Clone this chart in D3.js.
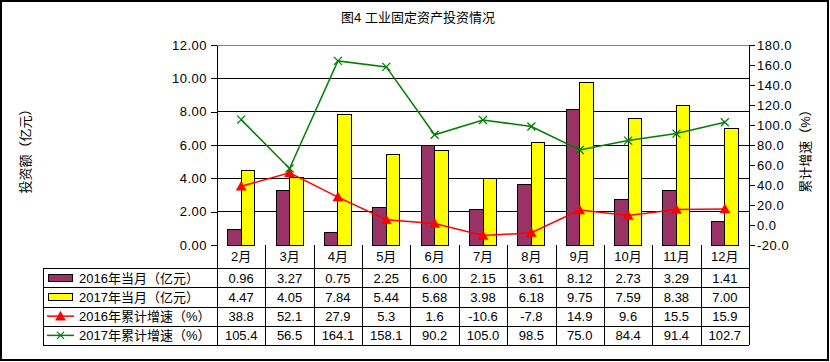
<!DOCTYPE html>
<html>
<head>
<meta charset="utf-8">
<script src="https://cdn.jsdelivr.net/npm/d3@7"></script>
<style>
  body { margin: 0; background: #fff; }
  svg text { font-family: "Liberation Sans", Arial, "Noto Sans CJK SC", sans-serif; fill: #000; }
</style>
</head>
<body>
<svg id="chart" width="830" height="362"></svg>
<script>
// data
const months = ['2月', '3月', '4月', '5月', '6月', '7月', '8月', '9月', '10月', '11月', '12月'];
const cur2016 = [0.96, 3.27, 0.75, 2.25, 6.00, 2.15, 3.61, 8.12, 2.73, 3.29, 1.41];
const cur2017 = [4.47, 4.05, 7.84, 5.44, 5.68, 3.98, 6.18, 9.75, 7.59, 8.38, 7.00];
const cum2016 = [38.8, 52.1, 27.9, 5.3, 1.6, -10.6, -7.8, 14.9, 9.6, 15.5, 15.9];
const cum2017 = [105.4, 56.5, 164.1, 158.1, 90.2, 105.0, 98.5, 75.0, 84.4, 91.4, 102.7];
const leftTicks = [0, 2, 4, 6, 8, 10, 12];
const rightTicks = [-20, 0, 20, 40, 60, 80, 100, 120, 140, 160, 180];

// plain hyphen minus, like the original
const fmt2 = d => d.toFixed(2);
const fmt1 = d => d.toFixed(1);

const rows = [
  { name: '2016年当月（亿元）', values: cur2016, kind: 'bar', color: '#993366', fmt: fmt2 },
  { name: '2017年当月（亿元）', values: cur2017, kind: 'bar', color: '#ffff00', fmt: fmt2 },
  { name: '2016年累计增速（%）', values: cum2016, kind: 'tri', color: '#ff0000', fmt: fmt1 },
  { name: '2017年累计增速（%）', values: cum2017, kind: 'x', color: '#008000', fmt: fmt1 }
];

const plot = { left: 217, right: 749, top: 45, bottom: 245 };
const table = { left: 43, headBottom: 268, rowH: 19.25 };

const svg = d3.select('#chart');

// outer frame
svg.append('rect')
  .attr('x', 1).attr('y', 1).attr('width', 827).attr('height', 359)
  .attr('fill', 'none').attr('stroke', '#000').attr('stroke-width', 2);

svg.append('text')
  .attr('x', 418).attr('y', 22)
  .attr('text-anchor', 'middle')
  .style('font-size', '13px')
  .text('图4 工业固定资产投资情况');

const x = d3.scaleBand().domain(months).range([plot.left, plot.right]).padding(0);
const xs = d3.scaleBand().domain([0, 1]).range([0, 27]);
const barOffset = (x.bandwidth() - 27) / 2;
const y = d3.scaleLinear().domain([0, 12]).range([plot.bottom, plot.top]);
const y2 = d3.scaleLinear().domain([-20, 180]).range([plot.bottom, plot.top]);

// grid
const grid = svg.append('g').attr('class', 'grid');
grid.selectAll('line')
  .data(leftTicks.slice(1))
  .join('line')
  .attr('x1', plot.left).attr('x2', plot.right)
  .attr('y1', d => y(d)).attr('y2', d => y(d))
  .attr('stroke', d => d === 12 ? '#808080' : '#000')
  .attr('stroke-width', 1)
  .attr('shape-rendering', 'crispEdges');

// bars
const bars = svg.append('g').attr('class', 'bars');
[cur2016, cur2017].forEach((vals, si) => {
  bars.append('g').selectAll('rect')
    .data(vals)
    .join('rect')
    .attr('x', (d, i) => x(months[i]) + barOffset + xs(si))
    .attr('y', d => y(d))
    .attr('width', xs.bandwidth())
    .attr('height', d => y(0) - y(d))
    .attr('fill', rows[si].color)
    .attr('stroke', '#000')
    .attr('stroke-width', 1)
    .attr('shape-rendering', 'crispEdges');
});

// axes
const axisL = svg.append('g')
  .attr('transform', `translate(${plot.left},0)`)
  .call(d3.axisLeft(y).tickValues(leftTicks).tickFormat(fmt2).tickSize(6).tickSizeOuter(0).tickPadding(4));
const axisR = svg.append('g')
  .attr('transform', `translate(${plot.right},0)`)
  .call(d3.axisRight(y2).tickValues(rightTicks).tickFormat(fmt1).tickSize(6).tickSizeOuter(0).tickPadding(2));
[axisL, axisR].forEach(a => {
  a.selectAll('path, line').attr('stroke', '#000').attr('shape-rendering', 'crispEdges');
  a.selectAll('text').style('font-size', '13px').style('letter-spacing', '0.5px').attr('fill', '#000');
});

// lines
const lineGen = d3.line()
  .x((d, i) => x(months[i]) + x.bandwidth() / 2)
  .y(d => y2(d));
const lines = svg.append('g').attr('class', 'lines');
[rows[2], rows[3]].forEach(r => {
  lines.append('path')
    .datum(r.values)
    .attr('d', lineGen)
    .attr('fill', 'none')
    .attr('stroke', r.color)
    .attr('stroke-width', 1.5);
  lines.append('g').selectAll('path')
    .data(r.values)
    .join('path')
    .attr('transform', (d, i) => `translate(${x(months[i]) + x.bandwidth() / 2},${y2(d)})`)
    .attr('d', r.kind === 'tri' ? 'M0,-5L5,4L-5,4Z' : 'M-4,-4L4,4M-4,4L4,-4')
    .attr('fill', r.color)
    .attr('stroke', r.color)
    .attr('stroke-width', r.kind === 'tri' ? 0.5 : 1.3);
});

// axis titles
svg.append('text')
  .attr('transform', 'translate(30,148) rotate(-90)')
  .attr('text-anchor', 'middle')
  .style('font-size', '13px')
  .text('投资额（亿元）');
svg.append('text')
  .attr('transform', 'translate(810,148) rotate(-90)')
  .attr('text-anchor', 'middle')
  .style('font-size', '13px')
  .text('累计增速（%）');

// data table
const tbl = svg.append('g').attr('class', 'table').attr('shape-rendering', 'crispEdges');
const rowY = i => table.headBottom + i * table.rowH;
const tableBottom = rowY(rows.length);

tbl.selectAll('line.h')
  .data(d3.range(rows.length + 1))
  .join('line')
  .attr('x1', table.left).attr('x2', plot.right)
  .attr('y1', d => Math.round(rowY(d)) + 0.5).attr('y2', d => Math.round(rowY(d)) + 0.5)
  .attr('stroke', '#000');
tbl.append('line')
  .attr('x1', table.left + 0.5).attr('x2', table.left + 0.5)
  .attr('y1', table.headBottom).attr('y2', tableBottom)
  .attr('stroke', '#000');
tbl.selectAll('line.v')
  .data(months.map(m => x(m)).concat([plot.right]))
  .join('line')
  .attr('x1', d => Math.round(d) + 0.5).attr('x2', d => Math.round(d) + 0.5)
  .attr('y1', plot.bottom).attr('y2', tableBottom)
  .attr('stroke', '#000');

// header labels
tbl.selectAll('text.cat')
  .data(months)
  .join('text')
  .attr('x', d => x(d) + x.bandwidth() / 2)
  .attr('y', plot.bottom + 16)
  .attr('text-anchor', 'middle')
  .style('font-size', '13px')
  .text(d => d);

rows.forEach((r, ri) => {
  const cy = rowY(ri) + table.rowH / 2;
  const g = tbl.append('g');
  if (r.kind === 'bar') {
    g.append('rect')
      .attr('x', 48.5).attr('y', Math.round(cy) - 3.5)
      .attr('width', 24).attr('height', 7)
      .attr('fill', r.color).attr('stroke', '#000');
  } else {
    g.append('line')
      .attr('x1', 47).attr('x2', 74).attr('y1', cy).attr('y2', cy)
      .attr('stroke', r.color).attr('stroke-width', 1.5)
      .attr('shape-rendering', 'auto');
    g.append('path')
      .attr('transform', `translate(60.5,${cy})`)
      .attr('d', r.kind === 'tri' ? 'M0,-5L5,4L-5,4Z' : 'M-3.5,-3.5L3.5,3.5M-3.5,3.5L3.5,-3.5')
      .attr('fill', r.color).attr('stroke', r.color)
      .attr('stroke-width', r.kind === 'tri' ? 0.5 : 1.3)
      .attr('shape-rendering', 'auto');
  }
  g.append('text')
    .attr('x', 79).attr('y', cy + 5)
    .style('font-size', '13px')
    .text(r.name);
  g.selectAll('text.val')
    .data(r.values)
    .join('text')
    .attr('x', (d, i) => x(months[i]) + x.bandwidth() / 2)
    .attr('y', cy + 5)
    .attr('text-anchor', 'middle')
    .style('font-size', '13px')
    .text(d => r.fmt(d));
});
</script>
</body>
</html>
